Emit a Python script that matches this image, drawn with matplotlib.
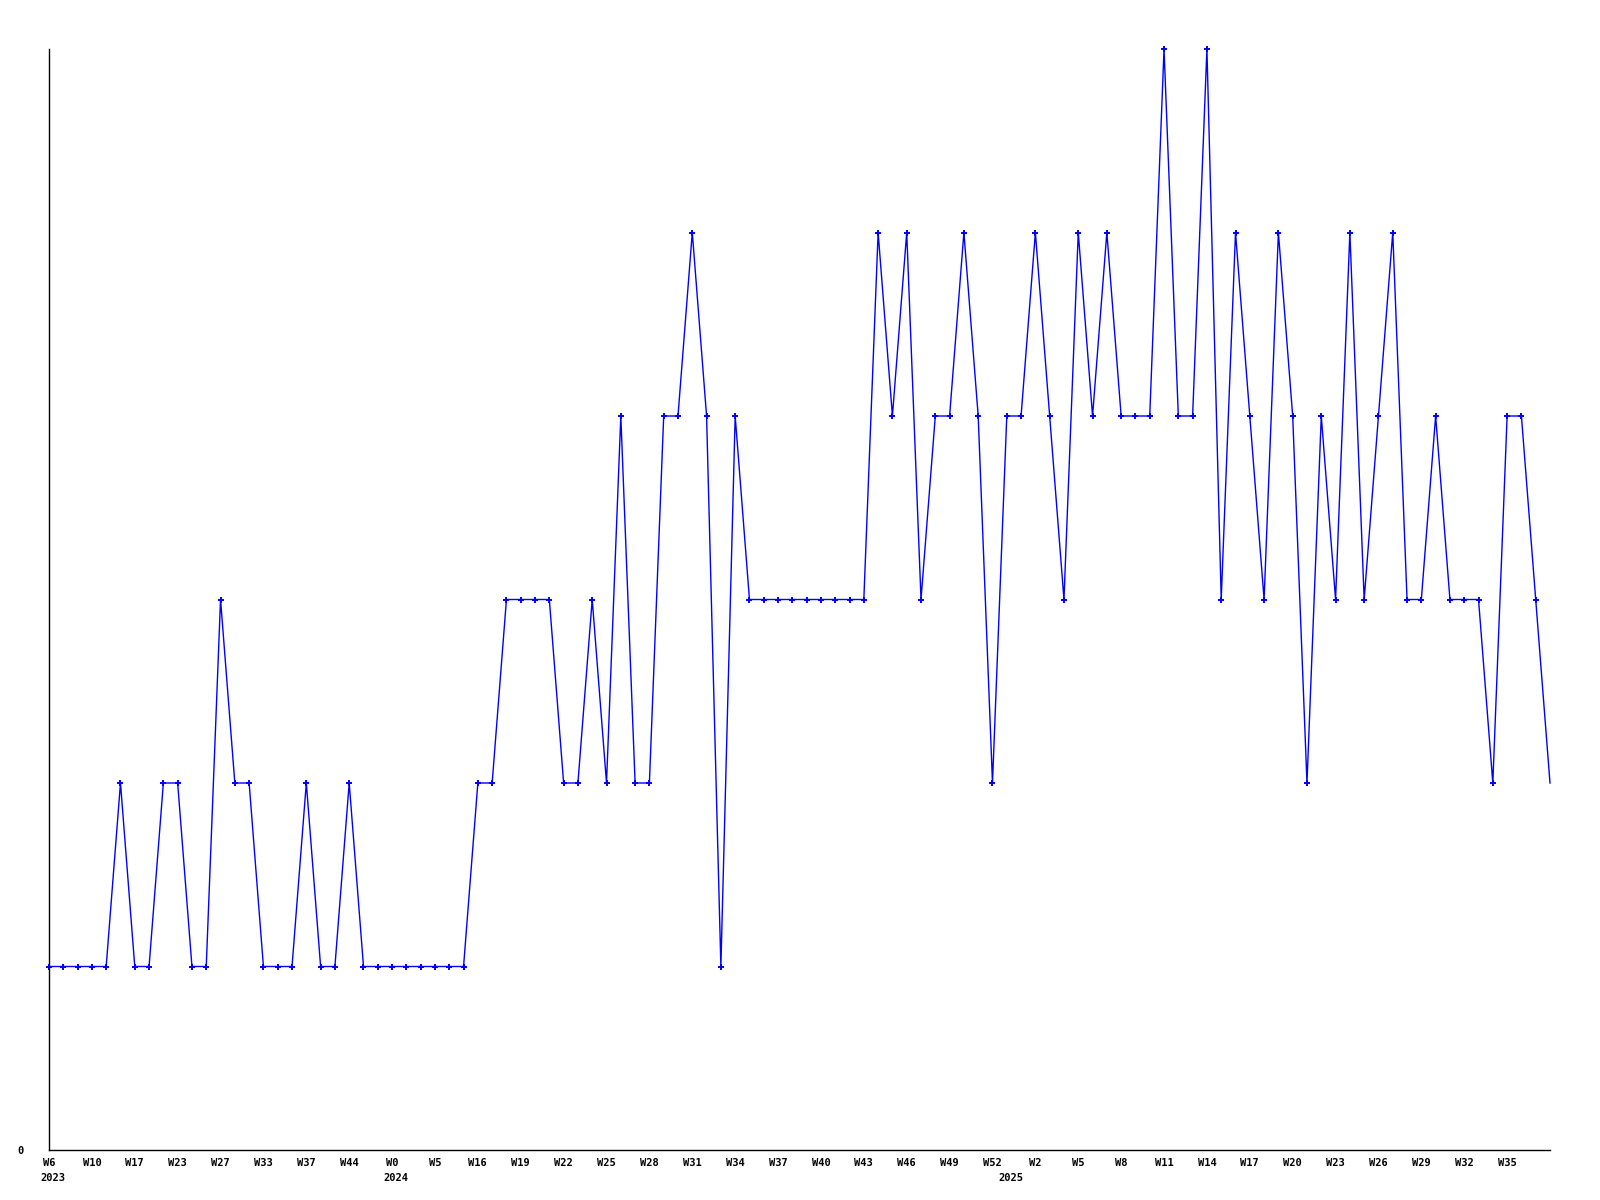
import matplotlib
matplotlib.use("Agg")
import matplotlib.pyplot as plt
import numpy as np

values = [1, 1, 1, 1, 1, 2, 1, 1, 2, 2, 1, 1, 3, 2, 2, 1, 1, 1, 2, 1,
          1, 2, 1, 1, 1, 1, 1, 1, 1, 1, 2, 2, 3, 3, 3, 3, 2, 2, 3, 2,
          4, 2, 2, 4, 4, 5, 4, 1, 4, 3, 3, 3, 3, 3, 3, 3, 3, 3, 5, 4,
          5, 3, 4, 4, 5, 4, 2, 4, 4, 5, 4, 3, 5, 4, 5, 4, 4, 4, 6, 4,
          4, 6, 3, 5, 4, 3, 5, 4, 2, 4, 3, 5, 3, 4, 5, 3, 3, 4, 3, 3,
          3, 2, 4, 4, 3, 2]

week_labels = ["W6", "W10", "W17", "W23", "W27", "W33", "W37", "W44", "W0", "W5",
               "W16", "W19", "W22", "W25", "W28", "W31", "W34", "W37", "W40", "W43",
               "W46", "W49", "W52", "W2", "W5", "W8", "W11", "W14", "W17", "W20",
               "W23", "W26", "W29", "W32", "W35"]
label_step = 3

years = ["2023", "2024", "2025"]
year_start_index = [0, 24, 67]

fig = plt.figure(figsize=(16, 12), dpi=100)
ax = fig.add_axes([49/1600, 50/1200, (1550-49)/1600, (1150-49)/1200])

x = np.arange(len(values))
ax.plot(x, values, color="#0000ff", linewidth=1.0, marker="+", markersize=4,
        markeredgewidth=1.4, markevery=list(range(len(values) - 1)), clip_on=False)

ax.set_xlim(0, len(values) - 1)
ax.set_ylim(0, 6)

for s in ["top", "right"]:
    ax.spines[s].set_visible(False)
for s in ["left", "bottom"]:
    ax.spines[s].set_linewidth(1.0)
    ax.spines[s].set_color("black")

font = dict(family="DejaVu Sans Mono", weight="bold", size=7.5)

ax.set_yticks([0])
ax.set_yticklabels(["0"], **font)
ax.tick_params(axis="y", length=0, pad=18)

ticks = np.arange(0, len(week_labels) * label_step, label_step)
ax.set_xticks(ticks)
ax.set_xticklabels(week_labels, **font)
ax.tick_params(axis="x", length=0, pad=6)

for yr, idx in zip(years, year_start_index):
    ax.annotate(yr, xy=(idx, 0), xycoords=("data", "axes fraction"),
                xytext=(3, -16.5), textcoords="offset points",
                ha="center", va="top", annotation_clip=False, **font)

fig.savefig("out.png", dpi=100)
